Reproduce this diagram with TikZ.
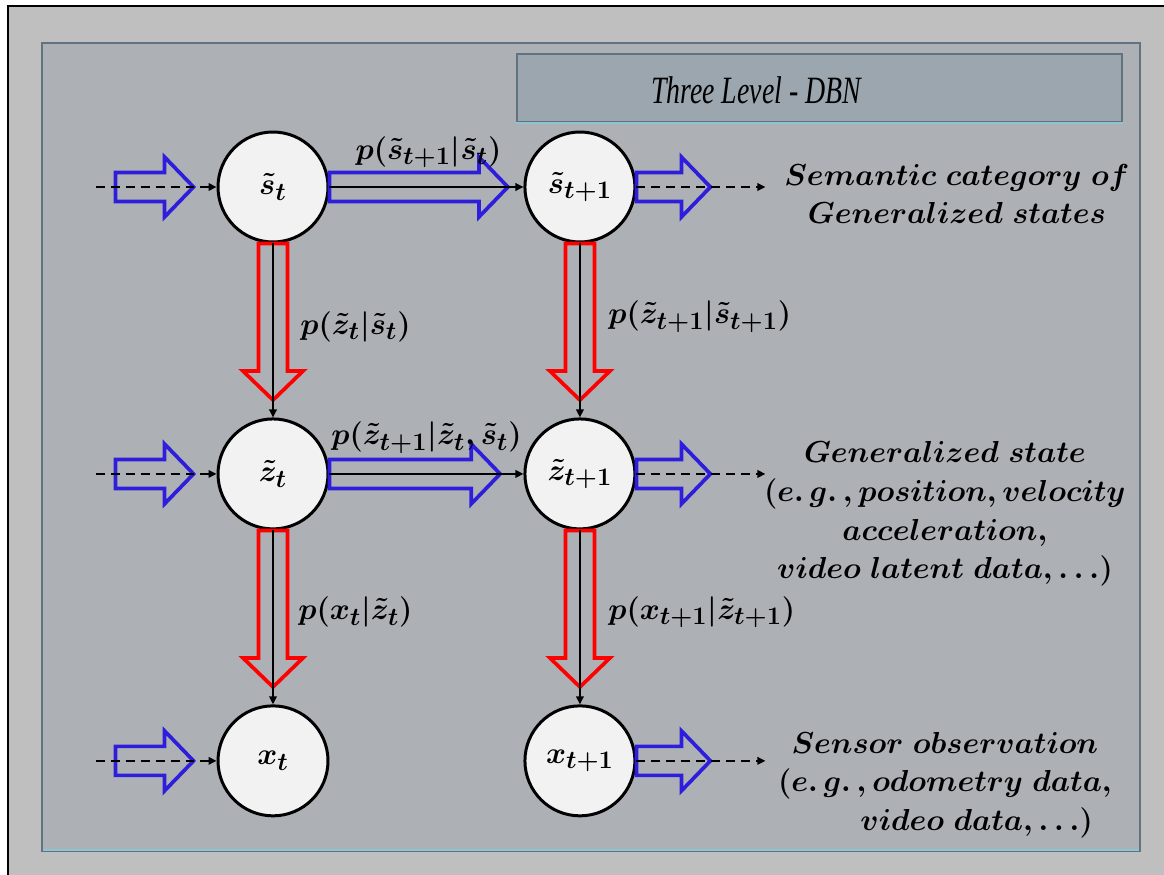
\documentclass[tikz,border=0pt]{standalone}
\usepackage{amsmath,amssymb}
\usepackage{graphicx}
\usepackage{fontspec}
\newfontfamily\titlefont{Liberation Serif}
\usetikzlibrary{positioning,arrows.meta,calc}

\definecolor{frameback}{HTML}{BFBFBF}
\definecolor{panelback}{HTML}{ADB1B5}
\definecolor{paneledge}{HTML}{61737E}
\definecolor{panellight}{HTML}{8EC3D6}
\definecolor{titleback}{HTML}{9BA6AF}
\definecolor{nodeback}{HTML}{F2F2F2}
\definecolor{arrblue}{HTML}{2E1EDB}
\definecolor{arrred}{HTML}{FF0000}

% hollow block arrow: colour, tail, tip
\newcommand{\hollowarr}[3]{%
  \coordinate (hb) at ($(#3)!0.58cm!(#2)$);
  \draw[#1, line width=2.1pt, line join=miter]
    ($(#2)!0.29cm!90:(#3)$) -- ($(hb)!0.29cm!-90:(#2)$) -- ($(hb)!0.6cm!-90:(#2)$)
    -- (#3) -- ($(hb)!0.6cm!90:(#2)$) -- ($(hb)!0.29cm!90:(#2)$)
    -- ($(#2)!0.29cm!-90:(#3)$) -- cycle;
}
% flow coming in on the left of a state
\newcommand{\inflow}[1]{%
  \coordinate (#1-in) at ($(#1.west)+(-121,0)$);
  \coordinate (#1-inA) at ($(#1.west)+(-101,0)$);
  \coordinate (#1-inB) at ($(#1.west)+(-23,0)$);
  \hollowarr{arrblue}{#1-inA}{#1-inB}
  \draw[darr] (#1-in) -- (#1);
}
% flow going out on the right of a state
\newcommand{\outflow}[1]{%
  \coordinate (#1-out) at ($(#1.east)+(129,0)$);
  \coordinate (#1-outB) at ($(#1.east)+(74,0)$);
  \hollowarr{arrblue}{#1.east}{#1-outB}
  \draw[darr] (#1) -- (#1-out);
}

\begin{document}
\begin{tikzpicture}[x=0.02cm, y=-0.02cm,
  state/.style={circle, draw, line width=1.7pt, fill=nodeback, minimum size=2.2cm,
                inner sep=0pt, font=\fontsize{19}{22}\selectfont\boldmath},
  lbl/.style={inner sep=0pt, font=\fontsize{19}{22}\selectfont\boldmath},
  note/.style={align=center, inner sep=0pt, font=\fontsize{18}{22}\selectfont\boldmath},
  arr/.style={-{Triangle[length=1.6mm, width=1.5mm]}, line width=1.1pt},
  darr/.style={arr, dash pattern=on 1.8mm off 1.2mm},
]
  \useasboundingbox (0,0) rectangle (1164,875);
  \fill[white] (0,0) rectangle (1164,875);
  \fill[frameback] (8,6) rectangle (1164,875);
  \draw[line width=1.7pt] (8,875) -- (8,6) -- (1164,6);

  % panel
  \draw[paneledge, line width=1.4pt, fill=panelback] (42,43) rectangle (1140,851);
  \draw[panellight, line width=1.4pt] (43,850) -- (1139,850);
  \node[draw=paneledge, line width=1.2pt, fill=titleback, minimum width=12.1cm,
        minimum height=1.36cm, inner sep=0pt] (tbox) at (819.5,88) {};
  \draw[panellight, line width=1.2pt] (tbox.south west) -- (tbox.south east);
  \node[inner sep=0pt] (title) at (756,90)
    {\scalebox{0.72}[1]{\titlefont\itshape\fontsize{22}{26}\selectfont Three Level - DBN}};

  % states
  \node[state] (st) at (273,187) {$\tilde{s}_t$};
  \node[state, right=3.88cm of st] (st1) {$\tilde{s}_{t+1}$};
  \node[state, below=3.48cm of st] (zt) {$\tilde{z}_t$};
  \node[state, below=3.48cm of st1] (zt1) {$\tilde{z}_{t+1}$};
  \node[state, below=3.48cm of zt] (xt) {$x_t$};
  \node[state, below=3.48cm of zt1] (xt1) {$x_{t+1}$};

  % transitions
  \coordinate (sT) at ($(st.east)!0.92!(st1.west)$);
  \hollowarr{arrblue}{st.east}{sT}
  \draw[arr] (st) -- (st1);
  \coordinate (zT) at ($(zt.east)!0.88!(zt1.west)$);
  \hollowarr{arrblue}{zt.east}{zT}
  \draw[arr] (zt) -- (zt1);

  % emissions
  \coordinate (szT) at ($(st.south)!0.9!(zt.north)$);
  \hollowarr{arrred}{st.south}{szT}
  \draw[arr] (st) -- (zt);
  \coordinate (szT1) at ($(st1.south)!0.9!(zt1.north)$);
  \hollowarr{arrred}{st1.south}{szT1}
  \draw[arr] (st1) -- (zt1);
  \coordinate (zxT) at ($(zt.south)!0.9!(xt.north)$);
  \hollowarr{arrred}{zt.south}{zxT}
  \draw[arr] (zt) -- (xt);
  \coordinate (zxT1) at ($(zt1.south)!0.9!(xt1.north)$);
  \hollowarr{arrred}{zt1.south}{zxT1}
  \draw[arr] (zt1) -- (xt1);

  % flows in and out
  \inflow{st}
  \inflow{zt}
  \inflow{xt}
  \outflow{st1}
  \outflow{zt1}
  \outflow{xt1}

  % probabilities
  \node[lbl] (lss) at ($(st)!0.5!(st1)+(2,-35)$) {$p(\tilde{s}_{t+1}|\tilde{s}_t)$};
  \node[lbl] (lzz) at ($(zt)!0.5!(zt1)+(0,-36)$) {$p(\tilde{z}_{t+1}|\tilde{z}_t,\tilde{s}_t)$};
  \node[lbl, anchor=west] (lzs) at ($(st)!0.5!(zt)+(27,-4)$) {$p(\tilde{z}_t|\tilde{s}_t)$};
  \node[lbl, anchor=west] (lzs1) at ($(st1)!0.5!(zt1)+(28,-14)$) {$p(\tilde{z}_{t+1}|\tilde{s}_{t+1})$};
  \node[lbl, anchor=west] (lxz) at ($(zt)!0.5!(xt)+(25,-5)$) {$p(x_t|\tilde{z}_t)$};
  \node[lbl, anchor=west] (lxz1) at ($(zt1)!0.5!(xt1)+(28,-5)$) {$p(x_{t+1}|\tilde{z}_{t+1})$};

  % levels
  \node[note] (sdesc) at (957,194) {$Semantic\ category\ of$\\$Generalized\ states$};
  \node[note] (zdesc) at (945,514) {$Generalized\ state$\\$(e.\,g.\,,position,velocity$\\$acceleration,$\\$video\ latent\ data,\ldots)$};
  \node[note] (xdesc) at (945,785) {$Sensor\ observation$\\$(e.\,g.\,,odometry\ data,$\\$\qquad video\ data,\ldots)$};
\end{tikzpicture}
\end{document}
